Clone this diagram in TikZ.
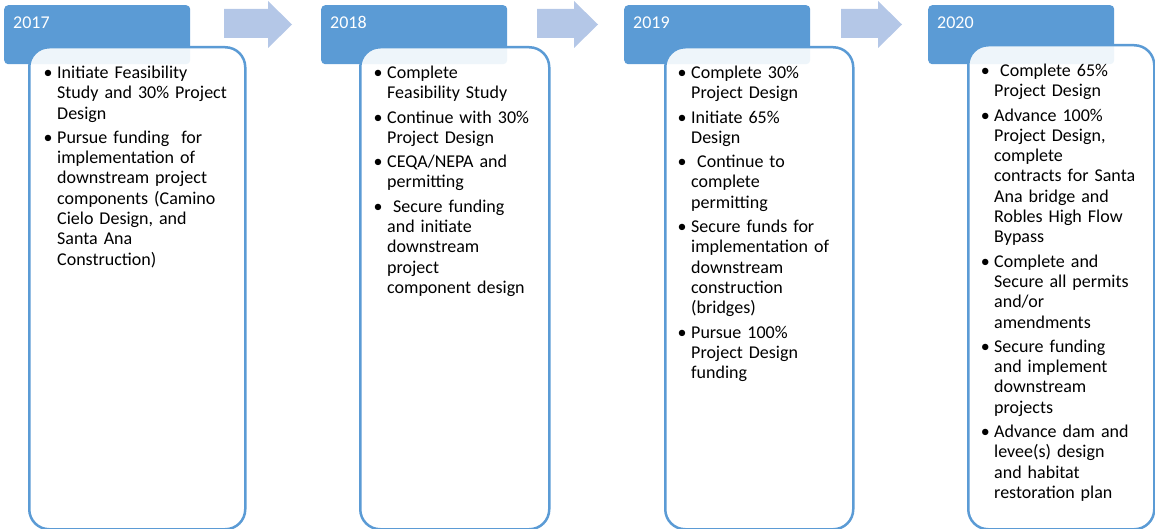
\documentclass[tikz,border=0pt]{standalone}
\usepackage{fontspec}
\setmainfont{Carlito}
\usepackage{tikz}
\usetikzlibrary{positioning}
\definecolor{hdrblue}{HTML}{5B9BD5}
\definecolor{arrowblue}{HTML}{B4C7E7}
\newcommand\yearfont{\fontsize{18}{20.3}\selectfont}
\newenvironment{tasks}{\begin{list}{\textbullet}{\setlength\leftmargin{13.5pt}\setlength\labelwidth{9pt}\setlength\labelsep{4.5pt}\setlength\itemsep{4pt}\setlength\parsep{0pt}\setlength\topsep{0pt}\setlength\partopsep{0pt}}}{\end{list}}
\tikzstyle{yearhead} = [rectangle, rounded corners=4pt, fill=hdrblue, text=white, anchor=north west, text width=168pt, inner xsep=9pt, inner ysep=0pt, text height=23pt, text depth=36pt, font=\yearfont]
\tikzstyle{panel} = [rectangle, rounded corners=20pt, draw=hdrblue, line width=2.5pt, fill=white, fill opacity=0.9, anchor=north west, inner sep=0pt, minimum height=482pt]
\tikzstyle{tasklist} = [inner sep=0pt, text width=200pt, font=\yearfont]

\begin{document}
\begin{tikzpicture}[x=1pt, y=-1pt]
  \useasboundingbox (0,0) rectangle (1155,529);
  \node (h17) [yearhead] at (4,5) {2017};
  \node (h18) [yearhead] at (321,5) {2018};
  \node (h19) [yearhead] at (624,5) {2019};
  \node (h20) [yearhead] at (928,5) {2020};

  \node (c17) [panel, minimum width=216pt] at (28,46) {};
  \node (c18) [panel, minimum width=189pt] at (359,46) {};
  \node (c19) [panel, minimum width=188pt] at (664,46) {};
  \node (c20) [panel, minimum width=186pt, minimum height=484pt] at (967,44) {};

  \foreach \x/\len in {224/68, 537/61, 841/61}
    \fill[arrowblue] (\x,9) -- (\x+\len-24,9) -- (\x+\len-24,1) -- (\x+\len,24.5)
      -- (\x+\len-24,48) -- (\x+\len-24,38) -- (\x,38) -- cycle;

  \node (t17) [tasklist, below right=12pt and 15.5pt of c17.north west] {\begin{tasks}
    \item Initiate Feasibility\\ Study and 30\% Project\\ Design
    \item Pursue funding\ \ for\\ implementation of\\ downstream project\\ components (Camino\\ Cielo Design, and\\ Santa Ana\\ Construction)
  \end{tasks}};
  \node (t18) [tasklist, below right=12pt and 14.5pt of c18.north west] {\begin{tasks}
    \item Complete\\ Feasibility Study
    \item Continue with 30\%\\ Project Design
    \item CEQA/NEPA and\\ permitting
    \item \ Secure funding\\ and initiate\\ downstream\\ project\\ component design
  \end{tasks}};
  \node (t19) [tasklist, below right=12pt and 13.5pt of c19.north west] {\begin{tasks}
    \item Complete 30\%\\ Project Design
    \item Initiate 65\%\\ Design
    \item \ Continue to\\ complete\\ permitting
    \item Secure funds for\\ implementation of\\ downstream\\ construction\\ (bridges)
    \item Pursue 100\%\\ Project Design\\ funding
  \end{tasks}};
  \node (t20) [tasklist, below right=12pt and 13.5pt of c20.north west] {\begin{tasks}
    \item \ Complete 65\%\\ Project Design
    \item Advance 100\%\\ Project Design,\\ complete\\ contracts for Santa\\ Ana bridge and\\ Robles High Flow\\ Bypass
    \item Complete and\\ Secure all permits\\ and/or\\ amendments
    \item Secure funding\\ and implement\\ downstream\\ projects
    \item Advance dam and\\ levee(s) design\\ and habitat\\ restoration plan
  \end{tasks}};
\end{tikzpicture}
\end{document}
